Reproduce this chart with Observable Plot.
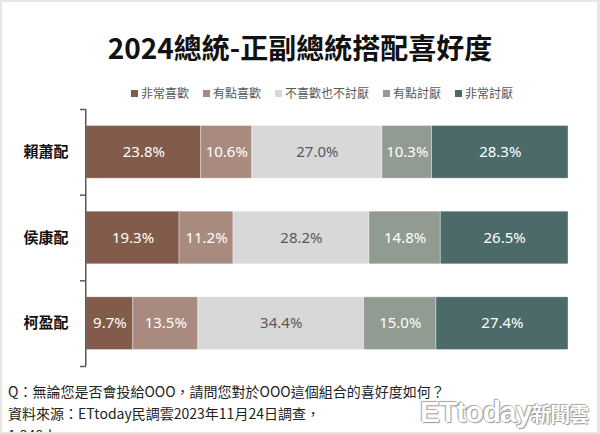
<!DOCTYPE html>
<html lang="zh-TW">
<head>
<meta charset="utf-8">
<script src="https://cdn.jsdelivr.net/npm/d3@7"></script>
<script src="https://cdn.jsdelivr.net/npm/@observablehq/plot@0.6"></script>
<style>
  body { margin: 0; background: #fff; }
  #wrap { position: relative; width: 600px; height: 434px; overflow: hidden; background: #fff;
          font-family: "Noto Sans CJK TC", "Noto Sans", sans-serif; }
  #frame { position: absolute; inset: 0; border: 2px solid #e6e6e6; border-right-width: 3px; pointer-events: none; z-index: 5; }
  #title { position: absolute; left: 0; right: 0; top: 28px; text-align: center; font-size: 28px; font-weight: bold;
           color: #111; line-height: 38px; }
  #legend { position: absolute; left: 131px; top: 84px; display: flex; font-size: 12px; color: #595959; line-height: 18px; white-space: nowrap; }
  #legend .item { display: flex; align-items: center; margin-right: 14px; }
  #legend .sw { width: 7px; height: 7px; margin-right: 3px; }
  #chart { position: absolute; left: 0; top: 100px; }
  #foot { position: absolute; left: 8px; top: 380px; font-size: 14px; color: #222; line-height: 22px; white-space: nowrap; }
  #mark { position: absolute; left: 420px; top: 395px; font-family: "Liberation Sans", sans-serif; white-space: nowrap;
          color: #fff; text-shadow: 0 0 1px #888, 1px 1px 1px #999, -1px -1px 1px #aaa; line-height: 34px; }
  #mark .et { font-size: 30px; font-weight: bold; letter-spacing: -1px; }
  #mark .cn { font-family: "Noto Sans CJK TC", sans-serif; font-size: 20px; font-weight: bold; letter-spacing: -1px; }
</style>
</head>
<body>
<div id="wrap">
  <div id="title">2024總統-正副總統搭配喜好度</div>
  <div id="legend"></div>
  <div id="chart"></div>
  <div id="foot">
    <div>Q：無論您是否會投給OOO，請問您對於OOO這個組合的喜好度如何？</div>
    <div>資料來源：ETtoday民調雲2023年11月24日調查，</div>
    <div>1,348人</div>
  </div>
  <div id="mark"><span class="et">ETtoday</span><span class="cn">新聞雲</span></div>
  <div id="frame"></div>
</div>
<script>
// ---- data ----
const pairs = ["賴蕭配", "侯康配", "柯盈配"];
const levels = ["非常喜歡", "有點喜歡", "不喜歡也不討厭", "有點討厭", "非常討厭"];
const laiHsiao = [23.8, 10.6, 27.0, 10.3, 28.3];
const houKang  = [19.3, 11.2, 28.2, 14.8, 26.5];
const koYing   = [9.7, 13.5, 34.4, 15.0, 27.4];
const colors = ["#835B4B", "#A98A7F", "#D8D8D8", "#929B91", "#4C6A6A"];

const series = [laiHsiao, houKang, koYing];
const rows = [];
series.forEach((vals, i) => {
  const ends = d3.cumsum(vals);
  vals.forEach((v, j) => {
    rows.push({ pair: pairs[i], i, level: levels[j], j, value: v, x1: ends[j] - v, x2: ends[j] });
  });
});

// legend
const lg = document.getElementById("legend");
levels.forEach((l, j) => {
  const it = document.createElement("div");
  it.className = "item";
  it.innerHTML = `<span class="sw" style="background:${colors[j]}"></span><span>${l}</span>`;
  lg.appendChild(it);
});

const boundaries = d3.range(pairs.length + 1).map(k => k - 0.5);

const chart = Plot.plot({
  width: 600,
  height: 280,
  marginLeft: 86,
  marginRight: 32,
  marginTop: 9,
  marginBottom: 14,
  style: { fontFamily: "'Noto Sans CJK TC', 'Noto Sans', sans-serif", background: "transparent" },
  x: { domain: [0, 100], axis: null },
  y: { domain: [-0.5, pairs.length - 0.5], reverse: true, axis: null },
  color: { domain: levels, range: colors },
  marks: [
    Plot.rectX(rows, {
      x1: "x1", x2: "x2",
      y1: d => d.i - 0.5, y2: d => d.i + 0.5,
      insetTop: 16.5, insetBottom: 16.5,
      fill: "level",
      stroke: "#ffffff", strokeOpacity: 0.45, strokeWidth: 0.8
    }),
    Plot.text(rows, {
      x: d => (d.x1 + d.x2) / 2,
      y: "i",
      text: d => d.value.toFixed(1) + "%",
      fill: d => d.j === 2 ? "#595959" : "#ffffff",
      fontSize: 15,
      fontFamily: "'Noto Sans', sans-serif"
    }),
    Plot.ruleX([0], { y1: -0.5, y2: pairs.length - 0.5, stroke: "#595959", strokeWidth: 1.5, dx: -0.75 }),
    Plot.axisY({ ticks: boundaries, tickSize: 6, tickFormat: () => "", label: null, stroke: "#595959", strokeWidth: 1.5 }),
    Plot.axisY({ ticks: d3.range(pairs.length), tickSize: 0, tickPadding: 18, tickFormat: k => pairs[k], label: null,
                 fontSize: 15, fontWeight: "bold", fill: "#111" })
  ]
});
document.getElementById("chart").appendChild(chart);
</script>
</body>
</html>
